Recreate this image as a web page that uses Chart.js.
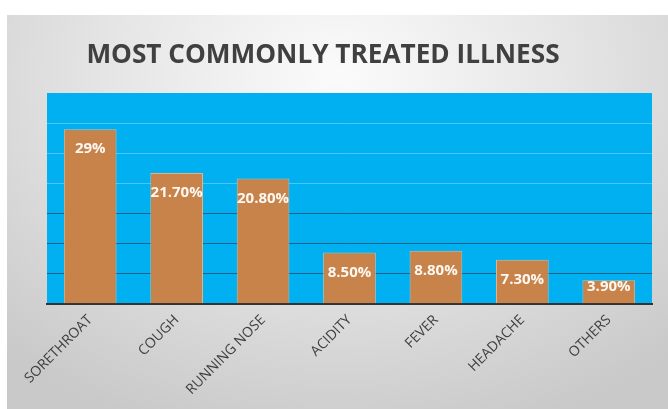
<!DOCTYPE html>
<html>
<head>
<meta charset="utf-8">
<script src="https://cdn.jsdelivr.net/npm/chart.js@4"></script>
<style>
  html, body { margin: 0; padding: 0; background: #ffffff; }
  #wrap { position: relative; width: 668px; height: 409px; overflow: hidden; }
  #card { position: absolute; left: 7px; top: 15px; width: 661px; height: 394px;
    background: radial-gradient(ellipse 75% 95% at 50% 15%, #fbfbfb 0%, #e6e6e6 45%, #c9c9c9 100%); }
  #c { position: absolute; left: 0; top: 0; }
</style>
</head>
<body>
<div id="wrap">
  <div id="card"></div>
  <canvas id="c" width="668" height="409"></canvas>
</div>
<script>
const categories = ["SORETHROAT", "COUGH", "RUNNING NOSE", "ACIDITY", "FEVER", "HEADACHE", "OTHERS"];
const values = [29, 21.7, 20.8, 8.5, 8.8, 7.3, 3.9];
const valueLabels = ["29%", "21.70%", "20.80%", "8.50%", "8.80%", "7.30%", "3.90%"];
const titleText = "MOST COMMONLY TREATED ILLNESS";

const plotBg = {
  id: 'plotBg',
  beforeDraw(chart) {
    const {ctx, chartArea: a} = chart;
    ctx.save();
    ctx.fillStyle = '#00B0F0';
    ctx.fillRect(a.left, a.top, a.right - a.left, a.bottom - a.top);
    ctx.restore();
  }
};

const titleDraw = {
  id: 'titleDraw',
  afterDraw(chart) {
    const {ctx} = chart;
    ctx.save();
    ctx.fillStyle = '#404040';
    ctx.font = 'bold 26.2px "Open Sans"';
    ctx.textAlign = 'center';
    ctx.textBaseline = 'alphabetic';
    ctx.fillText(titleText, 323, 63);
    ctx.restore();
  }
};

const barLabels = {
  id: 'barLabels',
  afterDatasetsDraw(chart) {
    const {ctx} = chart;
    const meta = chart.getDatasetMeta(0);
    const base = chart.scales.y.getPixelForValue(0);
    ctx.save();
    ctx.fillStyle = '#fdf8f2';
    ctx.font = 'bold 15px "Open Sans"';
    ctx.textAlign = 'center';
    ctx.textBaseline = 'middle';
    meta.data.forEach((bar, i) => {
      const y = Math.min(bar.y + 20, base - 17);
      ctx.fillText(valueLabels[i], bar.x, y);
    });
    ctx.restore();
  }
};

new Chart(document.getElementById('c'), {
  type: 'bar',
  data: {
    labels: categories,
    datasets: [{
      data: values,
      backgroundColor: '#C8834A',
      borderColor: '#E2B48C',
      borderWidth: 1,
      barPercentage: 0.61,
      categoryPercentage: 1.0
    }]
  },
  options: {
    responsive: false,
    animation: false,
    devicePixelRatio: 1,
    layout: { padding: { left: 47, right: 16, top: 93, bottom: 3 } },
    plugins: {
      legend: { display: false },
      tooltip: { enabled: false },
      title: { display: false }
    },
    scales: {
      x: {
        grid: { display: false, drawTicks: false },
        border: { display: true, color: '#333333', width: 2 },
        ticks: {
          color: '#404040',
          font: { family: '"Open Sans"', size: 14 },
          minRotation: 45,
          maxRotation: 45,
          padding: 8
        }
      },
      y: {
        min: 0,
        max: 35,
        ticks: { display: false, stepSize: 5 },
        border: { display: false },
        grid: {
          drawTicks: false,
          lineWidth: 1,
          color: (ctx) => {
            const v = ctx.tick ? ctx.tick.value : 0;
            if (v === 0 || v === 35) return 'rgba(0,0,0,0)';
            if (v <= 15) return '#17618a';
            return '#4cc6f2';
          }
        }
      }
    }
  },
  plugins: [plotBg, barLabels, titleDraw]
});
</script>
</body>
</html>
